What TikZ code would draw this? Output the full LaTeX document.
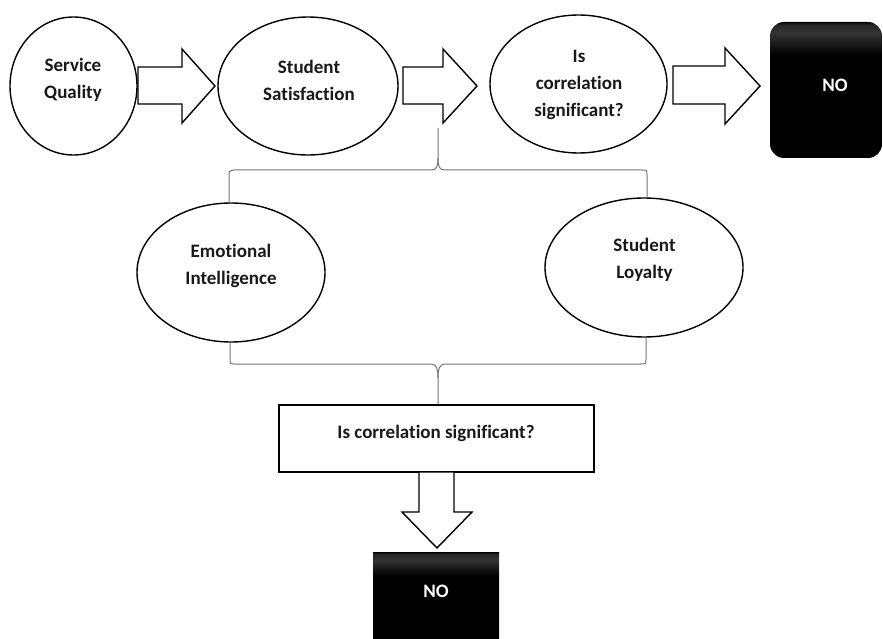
\documentclass[tikz,border=0pt]{standalone}
\usepackage{fontspec}
\setmainfont{Carlito}[Ligatures=NoCommon]
\usetikzlibrary{shapes.geometric}
\pgfdeclareverticalshading{noshade}{100bp}{color(0bp)=(black); color(25bp)=(black); color(63bp)=(black); color(71bp)=(black!80); color(74bp)=(black!85); color(75bp)=(black); color(100bp)=(black)}
\begin{document}
\begin{tikzpicture}[x=1pt,y=-1pt,
  ell/.style={draw=black, line width=1.4pt, ellipse, inner sep=0pt, fill=white},
  txt/.style={font=\fontsize{19}{27}\selectfont\bfseries, align=center, text=black!90, inner sep=0pt},
  wtxt/.style={font=\fontsize{19}{27}\selectfont\bfseries, align=center, text=white, inner sep=0pt},
  blk/.style={draw=black, line width=1.4pt, fill=white, line join=miter},
  brace/.style={draw=black!55, line width=1pt},
  nobox/.style={rectangle, inner sep=0pt, shading=noshade},
  qbox/.style={rectangle, draw=black, line width=1.4pt, inner sep=0pt, fill=white}]
\useasboundingbox (0,0) rectangle (883,639);
\clip (0,0) rectangle (883,639);

% top row
\node[ell, minimum width=127pt, minimum height=138pt] (sq) at (73.5,86) {};
\node[txt] (sqt) at (73,80) {Service\\Quality};
\node[ell, minimum width=180pt, minimum height=138pt] (ss) at (308,86) {};
\node[txt] (sst) at (309,80) {Student\\Satisfaction};
\node[ell, minimum width=177pt, minimum height=138pt] (ic) at (578.5,84) {};
\node[txt] (ict) at (579,85) {Is\\correlation\\significant?};
\node[nobox, rounded corners=14pt, minimum width=112pt, minimum height=136pt] (no1) at (826,90) {};
\node[wtxt] (no1t) at (835,85) {NO};

% middle row
\node[ell, minimum width=188pt, minimum height=139pt] (ei) at (231,272.5) {};
\node[txt] (eit) at (231,265.5) {Emotional\\Intelligence};
\node[ell, minimum width=198pt, minimum height=139pt] (sl) at (644,267.5) {};
\node[txt] (slt) at (644.5,260) {Student\\Loyalty};

% question box
\node[qbox, minimum width=315pt, minimum height=67pt] (qb) at (436.5,438.5) {};
\node[txt] (qbt) at (436,433) {Is correlation significant?};

% bottom NO
\node[nobox, minimum width=126pt, minimum height=100pt] (no2) at (436,602) {};
\node[wtxt] (no2t) at (436,591) {NO};

% block arrows
\draw[blk] (138,67) -- (182,67) -- (182,49) -- (215,86) -- (182,123) -- (182,104) -- (138,104) -- cycle;
\draw[blk] (403,67) -- (443,67) -- (443,49) -- (477,86) -- (443,123) -- (443,104) -- (403,104) -- cycle;
\draw[blk] (673,66) -- (725,66) -- (725,48) -- (760,86) -- (725,124) -- (725,104) -- (673,104) -- cycle;
\draw[blk] (419,472) -- (419,512) -- (402,512) -- (437,548) -- (472,512) -- (454,512) -- (454,472) -- cycle;

% upper brace
\coordinate (ubt) at (438,128);
\draw[brace] (ei.north -| 229,0) -- (229,176) .. controls (229,171) .. (234,170) -- (431,170)
  .. controls (437,170) and (438,166) .. (438,158) -- (ubt);
\draw[brace] (438,158) .. controls (438,166) and (439,170) .. (445,170) -- (642,170)
  .. controls (647,170) .. (647,175) -- (sl.north -| 647,0);

% lower brace
\draw[brace] (ei.south -| 230,0) -- (230,359) .. controls (230,364) .. (235,364) -- (431,364)
  .. controls (437,364) and (438,370) .. (438,378) -- (qb.north -| 438,0);
\draw[brace] (438,378) .. controls (438,370) and (439,364) .. (445,364) -- (641,364)
  .. controls (646,364) .. (646,359) -- (sl.south -| 646,0);
\end{tikzpicture}
\end{document}
